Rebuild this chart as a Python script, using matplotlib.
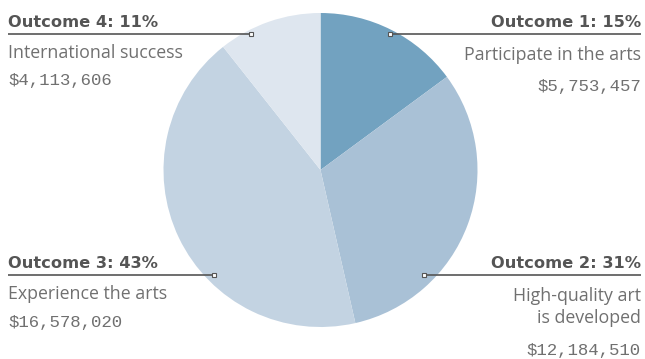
import matplotlib.pyplot as plt
from matplotlib.patches import Rectangle

# Funding split by outcome
outcomes = ["Outcome 1", "Outcome 2", "Outcome 3", "Outcome 4"]
descriptions = ["Participate in the arts", "High-quality art\nis developed",
                "Experience the arts", "International success"]
amounts = [5753457, 12184510, 16578020, 4113606]
percents = [15, 31, 43, 11]
colors = ["#72a2c0", "#a9c1d6", "#c3d3e2", "#dee6ef"]

W, H = 645, 359
fig = plt.figure(figsize=(W / 100, H / 100), dpi=100)
ax = fig.add_axes([0, 0, 1, 1])

cx, cy, R = 320.5, H - 170, 157
ax.pie(amounts, colors=colors, startangle=90, counterclock=False,
       center=(cx, cy), radius=R, frame=True,
       wedgeprops=dict(linewidth=0))
ax.set_xlim(0, W)
ax.set_ylim(0, H)
ax.set_aspect("equal")
ax.axis("off")

TITLE = "#555555"
BODY = "#707070"

# label layout: (line y, line start x, line end x, marker x, side)
layout = [
    (34, 390, 641, 390, "right"),
    (275, 424, 641, 424, "right"),
    (275, 8, 214, 214, "left"),
    (34, 8, 251, 251, "left"),
]

for i, (ly, x0, x1, mx, side) in enumerate(layout):
    y = H - ly
    ax.plot([x0, x1], [y, y], color="#555555", lw=1.2, zorder=3,
            solid_capstyle="butt")
    ax.add_patch(Rectangle((mx - 2, y - 2), 4, 4, facecolor="white",
                           edgecolor="#555555", lw=0.8, zorder=4))
    tx = x1 if side == "right" else x0
    ax.text(tx, y + 11.5, f"{outcomes[i]}: {percents[i]}%", ha=side,
            va="center", fontsize=11.7, fontweight="bold", color=TITLE,
            family="DejaVu Sans")
    gap = 21 if side == "right" else 19
    for j, line in enumerate(descriptions[i].split("\n")):
        ax.text(tx, y - gap - 22 * j, line, ha=side, va="center",
                fontsize=12.8, color=BODY, family="Open Sans")
    nlines = descriptions[i].count("\n")
    ax.text(tx, y - gap - 22 * nlines - 28 - (4 if side == "right" else 0),
            f"${amounts[i]:,}", ha=side, va="center", fontsize=12.5,
            color=BODY, family="Liberation Mono")

fig.savefig("out.png", dpi=100)
